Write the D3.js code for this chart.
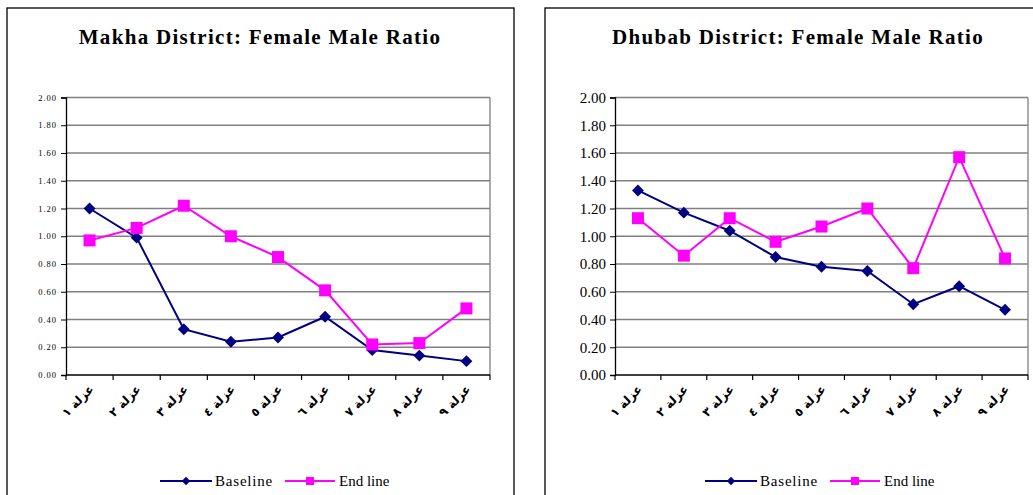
<!DOCTYPE html>
<html><head><meta charset="utf-8">
<script src="https://cdn.jsdelivr.net/npm/d3@7"></script>
<style>body{margin:0;background:#fff}svg{display:block}</style>
</head><body>
<script>
const categories = ["عزلة ١","عزلة ٢","عزلة ٣","عزلة ٤","عزلة ٥","عزلة ٦","عزلة ٧","عزلة ٨","عزلة ٩"];
const yTicks = [0,0.2,0.4,0.6,0.8,1.0,1.2,1.4,1.6,1.8,2.0];
const makhaBaseline = [1.20,0.99,0.33,0.24,0.27,0.42,0.18,0.14,0.10];
const makhaEndline  = [0.97,1.06,1.22,1.00,0.85,0.61,0.22,0.23,0.48];
const dhubabBaseline = [1.33,1.17,1.04,0.85,0.78,0.75,0.51,0.64,0.47];
const dhubabEndline  = [1.13,0.86,1.13,0.96,1.07,1.20,0.77,1.57,0.84];
const seriesNames = ["Baseline","End line"];

const svg = d3.select("body").append("svg").attr("width",1033).attr("height",495);

function panel(o){
  const g = svg.append("g");
  g.append("rect").attr("x",o.bx).attr("y",8).attr("width",o.bw).attr("height",500)
    .attr("fill","#fff").attr("stroke","#000").attr("stroke-width",1.3);
  g.append("text").attr("x",o.tx).attr("y",44).attr("text-anchor","middle")
    .attr("font-family","Liberation Serif, serif").attr("font-weight","bold")
    .attr("font-size",21).attr("letter-spacing",1.3).text(o.title);
  const x = d3.scaleBand().domain(categories).range([o.x0,o.x1]);
  const y = d3.scaleLinear().domain([0,2]).range([375,97.5]);
  g.append("g").selectAll("line").data(yTicks.slice(1)).join("line")
    .attr("x1",o.x0).attr("x2",o.x1).attr("y1",d=>y(d)).attr("y2",d=>y(d))
    .attr("stroke","#808080").attr("stroke-width",1.3);
  g.append("line").attr("x1",o.x1).attr("x2",o.x1).attr("y1",y(2)).attr("y2",y(0))
    .attr("stroke","#808080").attr("stroke-width",1.3);
  const ya = g.append("g").attr("transform",`translate(${o.x0},0)`)
    .call(d3.axisLeft(y).tickValues(yTicks).tickFormat(d3.format(".2f")).tickSize(5).tickPadding(4));
  ya.select(".domain").attr("stroke","#000").attr("stroke-width",1.3);
  ya.selectAll("text").attr("font-family","Liberation Serif, serif").attr("font-size",o.yfs)
    .attr("letter-spacing",o.yls).attr("fill","#000");
  const xa = g.append("g").attr("transform","translate(0,375)");
  xa.append("line").attr("x1",o.x0).attr("x2",o.x1).attr("stroke","#000").attr("stroke-width",1.3);
  xa.selectAll("line.t").data(d3.range(categories.length+1)).join("line").attr("class","t")
    .attr("x1",i=>o.x0+i*x.step()).attr("x2",i=>o.x0+i*x.step()).attr("y1",0).attr("y2",5)
    .attr("stroke","#000").attr("stroke-width",1.2);
  xa.selectAll("text").data(categories).join("text")
    .attr("transform",d=>`translate(${x(d)+x.bandwidth()/2+2},12) rotate(-45)`)
    .attr("text-anchor","end").attr("dy","0.35em")
    .attr("font-family","DejaVu Sans, sans-serif").attr("font-size",12).attr("font-weight","bold")
    .text(d=>d);
  const cx = i=>x(categories[i])+x.bandwidth()/2;
  const line = d3.line().x((d,i)=>cx(i)).y(d=>y(d));
  g.append("path").datum(o.base).attr("d",line).attr("fill","none").attr("stroke","#000080").attr("stroke-width",2);
  g.append("path").datum(o.end).attr("d",line).attr("fill","none").attr("stroke","#FF00FF").attr("stroke-width",2);
  const diamond = d3.symbol().type(d3.symbolDiamond2).size(90);
  g.selectAll("path.b").data(o.base).join("path").attr("class","b")
    .attr("transform",(d,i)=>`translate(${cx(i)},${y(d)})`).attr("d",diamond).attr("fill","#000080");
  g.selectAll("rect.e").data(o.end).join("rect").attr("class","e")
    .attr("x",(d,i)=>cx(i)-6).attr("y",d=>y(d)-6).attr("width",12).attr("height",12).attr("fill","#FF00FF");
  const lg = g.append("g").attr("transform",`translate(${o.lx},481)`);
  lg.append("line").attr("x1",0).attr("x2",52).attr("stroke","#000080").attr("stroke-width",2);
  lg.append("path").attr("transform","translate(26,0)").attr("d",d3.symbol().type(d3.symbolDiamond2).size(45)).attr("fill","#000080");
  lg.append("text").attr("x",55).attr("y",5).attr("font-family","Liberation Serif, serif").attr("font-size",15).attr("letter-spacing",0.8).text(seriesNames[0]);
  lg.append("line").attr("x1",125).attr("x2",175).attr("stroke","#FF00FF").attr("stroke-width",2);
  lg.append("rect").attr("x",146).attr("y",-4).attr("width",8).attr("height",8).attr("fill","#FF00FF");
  lg.append("text").attr("x",179).attr("y",5).attr("font-family","Liberation Serif, serif").attr("font-size",15).text(seriesNames[1]);
}

panel({bx:7,bw:507,tx:260,title:"Makha District: Female Male Ratio",x0:66,x1:490,yfs:8.5,yls:1,
  base:makhaBaseline,end:makhaEndline,lx:160});
panel({bx:545,bw:520,tx:798,title:"Dhubab District: Female Male Ratio",x0:615,x1:1028,yfs:15,yls:0,
  base:dhubabBaseline,end:dhubabEndline,lx:705});
</script>
</body></html>
